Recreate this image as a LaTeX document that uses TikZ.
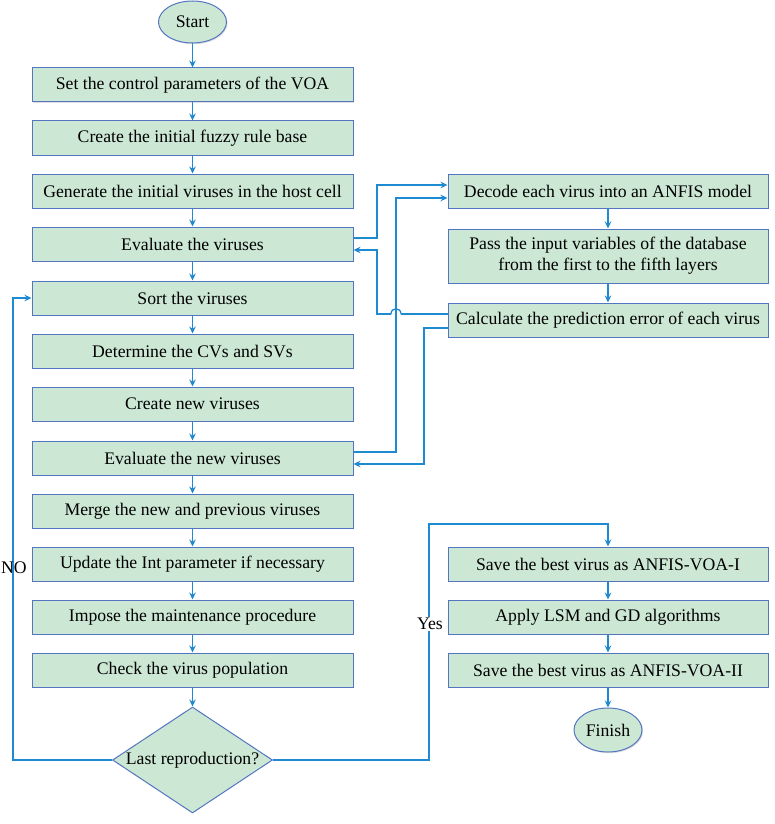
\documentclass[tikz,border=0pt]{standalone}
\usepackage{fontspec}
\setmainfont{Liberation Serif}
\usetikzlibrary{shapes.geometric,arrows.meta,shadows}
\definecolor{flowline}{RGB}{30,138,210}
\definecolor{boxedge}{RGB}{84,118,192}
\definecolor{boxfill}{RGB}{204,232,212}

\begin{document}
\begin{tikzpicture}[x=1pt,y=-1pt,
  every node/.style={font=\fontsize{17.7}{20}\selectfont},
  stepbox/.style={draw=boxedge,fill=boxfill,line width=1pt,minimum width=321pt,minimum height=34pt,inner sep=0pt,align=center,
    drop shadow={opacity=0.25,shadow xshift=1.2pt,shadow yshift=-1.2pt}},
  terminal/.style={ellipse,draw=boxedge,fill=boxfill,line width=1pt,minimum width=68pt,minimum height=42pt,inner sep=0pt,
    drop shadow={opacity=0.25,shadow xshift=1.2pt,shadow yshift=-1.2pt}},
  decision/.style={diamond,draw=boxedge,fill=boxfill,line width=1pt,minimum width=160pt,minimum height=106pt,inner sep=0pt,aspect=1.5},
  plainlink/.style={draw=flowline,line width=1.3pt},
  link/.style={plainlink,-{Stealth[length=7pt,width=6.5pt]}}]
\useasboundingbox (0,0) rectangle (775,824);

% left column
\node[terminal] (start) at (192.5,22) {Start};
\node[stepbox] (setpar) at (192.5,85) {Set the control parameters of the VOA};
\node[stepbox] (rulebase) at (192.5,138) {Create the initial fuzzy rule base};
\node[stepbox] (generate) at (192.5,191) {Generate the initial viruses in the host cell};
\node[stepbox] (eval) at (192.5,244) {Evaluate the viruses};
\node[stepbox] (sort) at (192.5,298) {Sort the viruses};
\node[stepbox] (cvsv) at (192.5,351) {Determine the CVs and SVs};
\node[stepbox] (newvir) at (192.5,404) {Create new viruses};
\node[stepbox] (evalnew) at (192.5,458) {Evaluate the new viruses};
\node[stepbox] (merge) at (192.5,511) {Merge the new and previous viruses};
\node[stepbox] (update) at (192.5,564) {Update the Int parameter if necessary};
\node[stepbox] (impose) at (192.5,617) {Impose the maintenance procedure};
\node[stepbox] (check) at (192.5,670) {Check the virus population};
\node[decision] (last) at (192.5,760) {Last reproduction?};

% right column
\node[stepbox,minimum width=320pt] (decode) at (608,191) {Decode each virus into an ANFIS model};
\node[stepbox,minimum width=320pt,minimum height=54pt,font=\fontsize{17.7}{21}\selectfont] (pass) at (608,256) {Pass the input variables of the database\\from the first to the fifth layers};
\node[stepbox,minimum width=320pt] (calc) at (608,320) {Calculate the prediction error of each virus};
\node[stepbox,minimum width=320pt] (save1) at (608,564) {Save the best virus as ANFIS-VOA-I};
\node[stepbox,minimum width=320pt] (lsm) at (608,617) {Apply LSM and GD algorithms};
\node[stepbox,minimum width=320pt] (save2) at (608,670) {Save the best virus as ANFIS-VOA-II};
\node[terminal,minimum height=44pt] (finish) at (608,730) {Finish};

% main flow
\draw[link] (start) -- (setpar);
\draw[link] (setpar) -- (rulebase);
\draw[link] (rulebase) -- (generate);
\draw[link] (generate) -- (eval);
\draw[link] (eval) -- (sort);
\draw[link] (sort) -- (cvsv);
\draw[link] (cvsv) -- (newvir);
\draw[link] (newvir) -- (evalnew);
\draw[link] (evalnew) -- (merge);
\draw[link] (merge) -- (update);
\draw[link] (update) -- (impose);
\draw[link] (impose) -- (check);
\draw[link] (check) -- (last);
\draw[link] (decode) -- (pass);
\draw[link] (pass) -- (calc);
\draw[link] (save1) -- (lsm);
\draw[link] (lsm) -- (save2);
\draw[link] (save2) -- (finish);

% evaluation links
\draw[link] ([yshift=6pt]eval.east) -- (377,238) |- ([yshift=6pt]decode.west);
\draw[link] ([yshift=6pt]evalnew.east) -- (396,452) |- ([yshift=-7pt]decode.west);
\coordinate (hopin) at (401,314);
\coordinate (hopout) at (391,314);
\draw[plainlink] ([yshift=6pt]calc.west) -- (hopin);
\draw[plainlink] (hopin) .. controls (401,307) and (391,307) .. (hopout);
\draw[link] (hopout) -- (377,314) |- ([yshift=-6pt]eval.east);
\draw[link] ([yshift=-8pt]calc.west) -- (424,328) |- ([yshift=-6pt]evalnew.east);

% decision
\draw[link] (last.west) -- (13,760) |- (sort.west);
\node (nolabel) at (14,568) {NO};
\draw[link] (last.east) -| (429,524) -| (save1.north);
\node[fill=white,inner sep=1pt] (yeslabel) at (430,624) {Yes};
\end{tikzpicture}
\end{document}
